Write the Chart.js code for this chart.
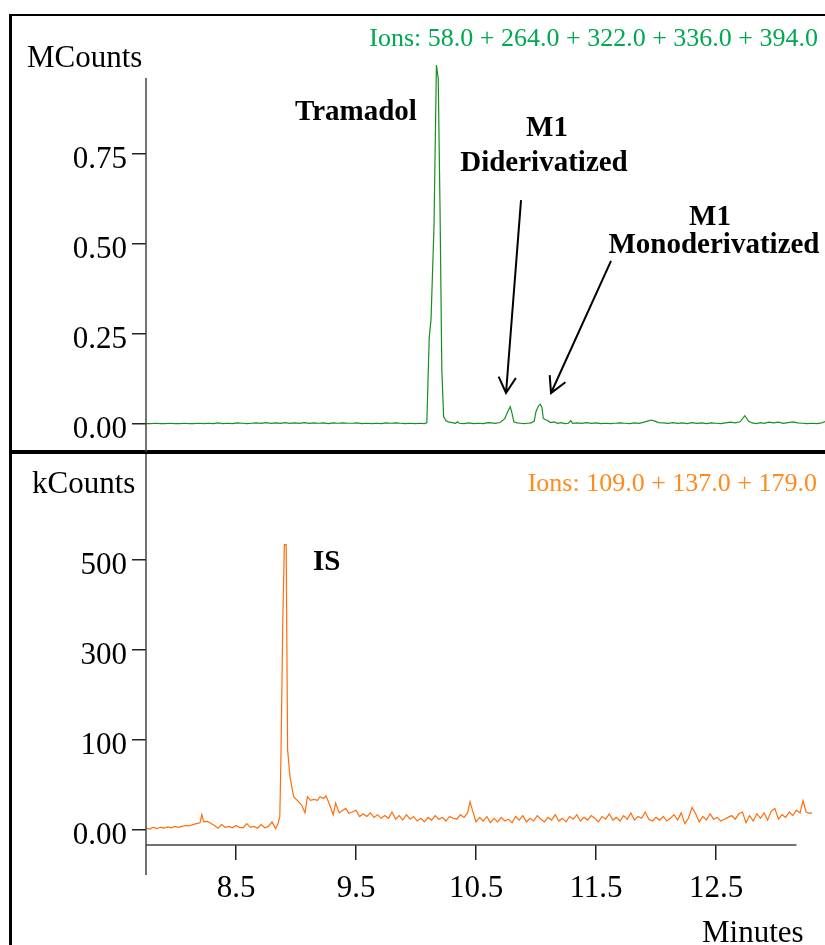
<!DOCTYPE html>
<html>
<head>
<meta charset="utf-8">
<script src="https://cdn.jsdelivr.net/npm/chart.js@4/dist/chart.umd.min.js"></script>
<style>
    body { margin: 0; background: #fff; }
    #page { position: relative; width: 825px; height: 945px; overflow: hidden; background: #fff;
        font-family: "Liberation Serif", "Times New Roman", serif; color: #000; }
    canvas { position: absolute; left: 0; }
    .t { position: absolute; white-space: nowrap; line-height: 1; }
    .big { font-size: 31px; }
    .ion { font-size: 26px; text-align: right; }
    .lab { font-size: 29px; font-weight: bold; }
    .ctr { width: 300px; text-align: center; }
    .rule { position: absolute; background: #000; }
</style>
</head>
<body>
<div id="page">
    <div class="rule" style="left:9px; top:14px; width:3px; height:931px"></div>
    <div class="rule" style="left:9px; top:14px; width:816px; height:2px"></div>
    <div class="rule" style="left:10px; top:450px; width:815px; height:4px"></div>

    <canvas id="topChart" width="825" height="452" style="top:0"></canvas>
    <canvas id="bottomChart" width="825" height="493" style="top:452px"></canvas>

    <div class="t big" style="left:27px; top:41px">MCounts</div>
    <div class="t ion" style="right:7px; top:25px; color:#00a84f">Ions: 58.0 + 264.0 + 322.0 + 336.0 + 394.0</div>
    <div class="t lab" style="left:295px; top:96px">Tramadol</div>
    <div class="t lab ctr" style="left:397px; top:112px">M1</div>
    <div class="t lab ctr" style="left:394px; top:147px">Diderivatized</div>
    <div class="t lab ctr" style="left:560px; top:201px">M1</div>
    <div class="t lab ctr" style="left:564px; top:229px">Monoderivatized</div>

    <div class="t big" style="left:32px; top:467px">kCounts</div>
    <div class="t ion" style="right:8px; top:470px; color:#ff8a1e">Ions: 109.0 + 137.0 + 179.0</div>
    <div class="t lab" style="left:313px; top:546px">IS</div>
    <div class="t big" style="left:702px; top:916px">Minutes</div>
</div>

<script>
// data
const greenTime = [7.75, 7.79, 7.83, 7.87, 7.91, 7.95, 7.99, 8.03, 8.07, 8.11, 8.15, 8.19, 8.23, 8.27, 8.31, 8.35, 8.39, 8.43, 8.47, 8.51,
    8.55, 8.59, 8.63, 8.67, 8.71, 8.75, 8.79, 8.83, 8.87, 8.91, 8.95, 8.99, 9.03, 9.07, 9.11, 9.15, 9.19, 9.23, 9.27, 9.31,
    9.35, 9.39, 9.43, 9.47, 9.51, 9.55, 9.59, 9.63, 9.67, 9.71, 9.75, 9.79, 9.83, 9.87, 9.91, 9.95, 9.99, 10.03, 10.07, 10.09,
    10.11, 10.125, 10.15, 10.17, 10.185, 10.2, 10.215, 10.23, 10.25, 10.27, 10.3, 10.33, 10.345, 10.36, 10.4, 10.44, 10.48, 10.52, 10.56, 10.6,
    10.63, 10.66, 10.7, 10.74, 10.765, 10.785, 10.8, 10.815, 10.84, 10.87, 10.9, 10.93, 10.96, 10.985, 11, 11.02, 11.035, 11.05, 11.06, 11.08, 11.1,
    11.12, 11.15, 11.18, 11.21, 11.24, 11.27, 11.29, 11.305, 11.34, 11.38, 11.42, 11.46, 11.5, 11.54, 11.58, 11.62, 11.66, 11.7, 11.74, 11.78,
    11.82, 11.86, 11.9, 11.93, 11.96, 11.99, 12.02, 12.06, 12.1, 12.14, 12.18, 12.22, 12.26, 12.3, 12.34, 12.38, 12.42, 12.46, 12.5, 12.54,
    12.58, 12.62, 12.66, 12.7, 12.74, 12.77, 12.8, 12.84, 12.87, 12.9, 12.94, 12.98, 13.02, 13.06, 13.1, 13.14, 13.18, 13.22, 13.26, 13.3,
    13.34, 13.38, 13.42]
const greenMCounts = [0.001, 0.001, 0.002, 0.001, 0.001, 0.002, 0.001, 0.001, 0.002, 0.001, 0.001, 0.002, 0.001, 0.002, 0.001, 0.003, 0.001, 0.002, 0.001, 0.003,
    0.002, 0.001, 0.002, 0.003, 0.002, 0.004, 0.002, 0.003, 0.002, 0.004, 0.002, 0.003, 0.002, 0.004, 0.002, 0.003, 0.002, 0.003, 0.001, 0.003,
    0.002, 0.003, 0.002, 0.002, 0.003, 0.001, 0.002, 0.001, 0.002, 0.001, 0.003, 0.002, 0.003, 0.002, 0.001, 0.002, 0.001, 0.002, 0.001, 0.003,
    0.24, 0.29, 0.55, 0.997, 0.96, 0.6, 0.15, 0.02, 0.009, 0.006, 0.004, 0.002, 0.006, 0.002, 0.001, 0.003, 0.001, 0.002, 0.001, 0.004,
    0.003, 0.002, 0.004, 0.015, 0.035, 0.048, 0.03, 0.006, 0.003, 0.002, 0.001, 0.002, 0.003, 0.008, 0.035, 0.05, 0.055, 0.045, 0.016, 0.012, 0.009,
    0.004, 0.006, 0.002, 0.004, 0.001, 0.002, 0.009, 0.002, 0.003, 0.002, 0.004, 0.002, 0.003, 0.001, 0.002, 0.001, 0.002, 0.003, 0.002, 0.001,
    0.003, 0.002, 0.005, 0.008, 0.011, 0.008, 0.004, 0.003, 0.002, 0.004, 0.002, 0.003, 0.001, 0.004, 0.002, 0.003, 0.001, 0.003, 0.002, 0.001,
    0.003, 0.005, 0.003, 0.006, 0.023, 0.008, 0.003, 0.001, 0.004, 0.002, 0.005, 0.003, 0.005, 0.002, 0.004, 0.006, 0.003, 0.002, 0.001, 0.002,
    0.001, 0.003, 0.008]

const orangeTime = [7.75, 7.78, 7.81, 7.84, 7.87, 7.9, 7.93, 7.96, 7.99, 8.02, 8.05, 8.08, 8.11, 8.14, 8.17, 8.2, 8.215, 8.23, 8.26, 8.29,
    8.32, 8.35, 8.38, 8.41, 8.44, 8.47, 8.5, 8.53, 8.56, 8.59, 8.62, 8.65, 8.68, 8.71, 8.74, 8.77, 8.8, 8.83, 8.85, 8.865,
    8.875, 8.89, 8.903, 8.918, 8.93, 8.95, 8.98, 9.02, 9.05, 9.075, 9.095, 9.12, 9.15, 9.18, 9.2, 9.23, 9.25, 9.28, 9.31, 9.33,
    9.36, 9.39, 9.415, 9.44, 9.47, 9.5, 9.53, 9.56, 9.59, 9.62, 9.65, 9.68, 9.71, 9.74, 9.77, 9.8, 9.83, 9.86, 9.89, 9.92,
    9.95, 9.98, 10.01, 10.04, 10.07, 10.1, 10.13, 10.16, 10.19, 10.22, 10.25, 10.28, 10.31, 10.34, 10.37, 10.4, 10.43, 10.45, 10.47, 10.5,
    10.53, 10.56, 10.59, 10.62, 10.65, 10.68, 10.71, 10.74, 10.77, 10.8, 10.83, 10.86, 10.89, 10.92, 10.95, 10.98, 11.01, 11.04, 11.07, 11.1,
    11.13, 11.16, 11.19, 11.22, 11.25, 11.28, 11.31, 11.34, 11.37, 11.4, 11.43, 11.46, 11.49, 11.52, 11.55, 11.58, 11.61, 11.64, 11.67, 11.7,
    11.73, 11.76, 11.79, 11.82, 11.85, 11.88, 11.91, 11.94, 11.97, 12, 12.03, 12.06, 12.09, 12.12, 12.15, 12.18, 12.21, 12.24, 12.27, 12.3,
    12.33, 12.36, 12.39, 12.42, 12.45, 12.48, 12.51, 12.54, 12.57, 12.6, 12.63, 12.66, 12.69, 12.72, 12.75, 12.78, 12.81, 12.84, 12.87, 12.9,
    12.93, 12.96, 12.99, 13.02, 13.05, 13.08, 13.11, 13.14, 13.17, 13.2, 13.225, 13.25, 13.28, 13.3]
const orangeKCounts = [2, 1, 3, 1.5, 3, 2, 3.5, 2.5, 4, 3, 4, 5, 4.5, 6, 7, 8, 17, 9, 9.5, 7.5,
    5, 2, 6, 3, 4, 2.5, 5, 3, 2.5, 7, 3, 4, 2, 6, 2.5, 4, 9, 1.5, 7, 15,
    85, 233, 317, 317, 89, 59, 37, 31.5, 27, 19, 37, 33, 34, 33, 37, 35, 38, 28, 17, 30,
    19, 22, 24, 18.5, 20, 22, 15, 18, 15, 19, 14, 17, 13, 16, 13, 20, 12, 16, 11, 17,
    12, 15, 10, 13, 9, 14, 11, 16, 12, 14, 10, 15, 13, 12, 17, 14, 19, 31.5, 22, 9,
    14, 10, 15, 8, 13, 9, 14, 10, 12, 8, 15, 11, 16, 9, 13, 10, 16, 12, 9, 14,
    11, 17, 10, 13, 9, 15, 12, 17, 10, 14, 11, 16, 13, 9, 15, 12, 18, 11, 14, 10,
    16, 12, 19, 11, 15, 13, 20, 12, 10, 14, 11, 15, 10, 13, 17, 11, 19, 7, 13, 25,
    18, 9, 15, 11, 18, 12, 14, 10, 12, 14, 16, 12, 18, 20, 8, 16, 10, 18, 13, 19,
    11, 21, 24, 12, 17, 14, 20, 16, 22, 19, 32.6, 20, 18.5, 19]

const topTicks = [0, 0.25, 0.5, 0.75]
const topTickLabels = ["0.00", "0.25", "0.50", "0.75"]
const bottomTicks = [0, 100, 200, 300]
const bottomTickLabels = ["0.00", "100", "300", "500"]
const timeTicks = [8.5, 9.5, 10.5, 11.5, 12.5]
const timeTickLabels = ["8.5", "9.5", "10.5", "11.5", "12.5"]

// arrows: [tail time, tail value, tip time, tip value]
const arrows = [
    [10.875, 0.622, 10.75, 0.086],
    [11.625, 0.453, 11.125, 0.086]
]

function main() {
    buildTopChart("topChart")
    buildBottomChart("bottomChart")
}

// functions
function toPoints(xs, ys) {
    return xs.map((x, i) => ({ x: x, y: ys[i] }))
}

const tickFont = { family: "Liberation Serif", size: 31 }

const axisLines = {
    id: "axisLines",
    afterDraw(chart, args, opts) {
        const { ctx, chartArea: a, scales } = chart
        ctx.save()
        ctx.strokeStyle = "#444"
        ctx.lineWidth = 1.5
        ctx.beginPath()
        ctx.moveTo(a.left, a.top)
        ctx.lineTo(a.left, a.bottom + (opts.yExtra || 0))
        if (opts.xEnd) {
            ctx.moveTo(a.left, a.bottom)
            ctx.lineTo(scales.x.getPixelForValue(opts.xEnd), a.bottom)
        }
        ctx.stroke()

        ctx.strokeStyle = "#000"
        ctx.lineWidth = 2
        for (let arr of (opts.arrows || [])) {
            const x1 = scales.x.getPixelForValue(arr[0])
            const y1 = scales.y.getPixelForValue(arr[1])
            const x2 = scales.x.getPixelForValue(arr[2])
            const y2 = scales.y.getPixelForValue(arr[3])
            const ang = Math.atan2(y2 - y1, x2 - x1)
            const len = 18
            ctx.beginPath()
            ctx.moveTo(x1, y1)
            ctx.lineTo(x2, y2)
            ctx.moveTo(x2 - len * Math.cos(ang - 0.5), y2 - len * Math.sin(ang - 0.5))
            ctx.lineTo(x2, y2)
            ctx.lineTo(x2 - len * Math.cos(ang + 0.5), y2 - len * Math.sin(ang + 0.5))
            ctx.stroke()
        }
        ctx.restore()
    }
}

function yScale(min, max, ticks, labels, width) {
    return {
        min: min,
        max: max,
        afterFit: (s) => {
            s.width = width
            s.paddingTop = 0
            s.paddingBottom = 0
        },
        afterBuildTicks: (s) => { s.ticks = ticks.map(v => ({ value: v })) },
        border: { display: false },
        grid: { drawOnChartArea: false, drawTicks: true, tickLength: 14, color: "#222", lineWidth: 1.5 },
        ticks: {
            color: "#000",
            font: tickFont,
            padding: 5,
            labelOffset: 6,
            callback: (v, i) => labels[i]
        }
    }
}

function buildTopChart(canvasId) {
    const ctx = document.getElementById(canvasId)
    new Chart(ctx, {
        type: "line",
        data: {
            datasets: [{
                data: toPoints(greenTime, greenMCounts),
                borderColor: "#17901e",
                borderWidth: 1.2,
                pointRadius: 0,
                tension: 0,
                clip: false
            }]
        },
        options: {
            responsive: false,
            animation: false,
            devicePixelRatio: 1,
            layout: { padding: { top: 78, right: 0, bottom: 0, left: 0 } },
            plugins: { legend: { display: false }, tooltip: { enabled: false }, axisLines: { arrows: arrows } },
            scales: {
                x: { type: "linear", min: 7.75, max: 13.408, display: false },
                y: yScale(-0.0778, 0.9611, topTicks, topTickLabels, 146)
            }
        },
        plugins: [axisLines]
    })
}

function buildBottomChart(canvasId) {
    const ctx = document.getElementById(canvasId)
    new Chart(ctx, {
        type: "line",
        data: {
            datasets: [{
                data: toPoints(orangeTime, orangeKCounts),
                borderColor: "#ff6e0a",
                borderWidth: 1.2,
                pointRadius: 0,
                tension: 0
            }]
        },
        options: {
            responsive: false,
            animation: false,
            devicePixelRatio: 1,
            layout: { padding: { top: 2, right: 0, bottom: 0, left: 0 } },
            plugins: { legend: { display: false }, tooltip: { enabled: false }, axisLines: { yExtra: 30, xEnd: 13.17 } },
            scales: {
                x: {
                    type: "linear",
                    min: 7.75,
                    max: 13.408,
                    afterFit: (s) => {
                        s.height = 100
                        s.paddingLeft = 0
                        s.paddingRight = 0
                    },
                    afterBuildTicks: (s) => { s.ticks = timeTicks.map(v => ({ value: v })) },
                    border: { display: false },
                    grid: { drawOnChartArea: false, drawTicks: true, tickLength: 15, color: "#222", lineWidth: 1.5 },
                    ticks: {
                        color: "#000",
                        font: tickFont,
                        padding: 10,
                        maxRotation: 0,
                        callback: (v, i) => timeTickLabels[i]
                    }
                },
                y: yScale(-16.667, 417.78, bottomTicks, bottomTickLabels, 146)
            }
        },
        plugins: [axisLines]
    })
}

// listeners
document.addEventListener("DOMContentLoaded", main)
</script>
</body>
</html>
